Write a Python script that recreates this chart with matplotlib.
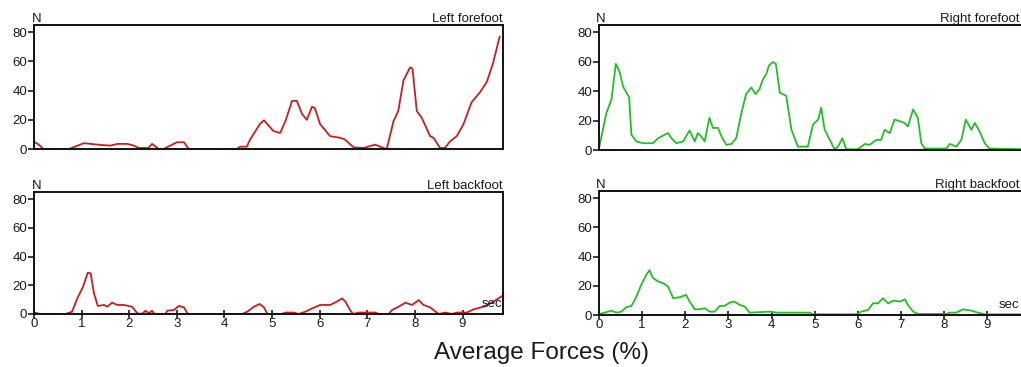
import matplotlib
matplotlib.use("Agg")
import matplotlib.pyplot as plt
import numpy as np

plt.rcParams["font.family"] = ["Liberation Sans", "DejaVu Sans"]

# time (sec) and force (N)
lf_t = [0, 0.1, 0.2, 0.73, 1.05, 1.33, 1.6, 1.75, 1.96, 2.1, 2.2, 2.4, 2.48, 2.62, 2.72,
        3.0, 3.15, 3.25, 4.26, 4.33, 4.47, 4.54, 4.75, 4.83, 5.03, 5.17, 5.28, 5.42,
        5.52, 5.63, 5.73, 5.84, 5.9, 6.01, 6.22, 6.43, 6.53, 6.71, 6.92, 7.16, 7.3,
        7.41, 7.55, 7.65, 7.76, 7.9, 7.95, 8.04, 8.14, 8.32, 8.39, 8.53, 8.63, 8.74,
        8.88, 9.02, 9.19, 9.37, 9.51, 9.64, 9.78]
lf_n = [5, 3, 0, 0, 4, 3, 2.3, 3.5, 3.5, 2.3, 0.7, 0.7, 3.5, 0, 0,
        4.6, 4.6, 0, 0, 1.6, 1.6, 6.5, 17.4, 19.7, 12.3, 11, 19, 33,
        33, 24, 20, 29, 28, 17, 8.8, 7.7, 6.5, 1.2, 0.7, 3, 1.2,
        0, 19, 26, 47, 56, 55, 26, 21.6, 8.8, 7.7, 0.7, 0.7, 5.3,
        8.8, 17, 32, 39, 46, 58.7, 77]

rf_t = [0, 0.17, 0.29, 0.39, 0.48, 0.56, 0.62, 0.7, 0.75, 0.87, 1.02, 1.25, 1.37, 1.52,
        1.6, 1.68, 1.79, 1.95, 2.1, 2.22, 2.29, 2.37, 2.45, 2.56, 2.64, 2.76, 2.84,
        2.95, 3.07, 3.18, 3.3, 3.41, 3.53, 3.63, 3.72, 3.8, 3.88, 3.94, 4.03, 4.1,
        4.19, 4.34, 4.46, 4.61, 4.84, 4.96, 5.08, 5.15, 5.23, 5.31, 5.46, 5.54, 5.64,
        5.73, 6.0, 6.16, 6.27, 6.43, 6.54, 6.62, 6.74, 6.85, 6.97, 7.08, 7.16, 7.28,
        7.39, 7.47, 7.55, 8.05, 8.13, 8.28, 8.4, 8.5, 8.63, 8.71, 8.82, 8.94, 9.05, 9.85]
rf_n = [1, 25, 34.5, 58.6, 53, 43, 40, 35.6, 10.4, 5.8, 4.6, 4.6, 8, 10.4,
        11.5, 8, 4.6, 5.8, 13.3, 5.8, 11.5, 9.2, 5.8, 21.9, 15, 15, 9.2,
        3.5, 4.1, 8, 25, 38, 42.5, 38, 41.4, 48, 51.8, 57.5, 59.8, 58.6,
        39, 36.8, 13.8, 2.3, 2.3, 17.3, 20.7, 28.8, 13.8, 9.2, 0.5, 2.3, 8,
        0.5, 0.5, 4.1, 3.5, 6.9, 6.9, 13.8, 11.5, 20.7, 19.6, 18.4, 16, 27.6,
        21.9, 4.6, 1, 1, 4.1, 2.3, 6.9, 20.7, 13.8, 18.4, 12.7, 4.6, 1, 0.5]

lb_t = [0, 0.14, 0.66, 0.8, 0.91, 1.03, 1.13, 1.19, 1.26, 1.34, 1.47, 1.54, 1.64, 1.75,
        1.89, 2.06, 2.17, 2.27, 2.34, 2.41, 2.48, 2.53, 2.76, 2.8, 2.94, 3.04, 3.15,
        3.23, 4.37, 4.48, 4.62, 4.74, 4.83, 4.9, 5.2, 5.28, 5.45, 5.56, 5.7, 5.84,
        6.01, 6.22, 6.36, 6.47, 6.54, 6.64, 6.7, 6.82, 7.17, 7.24, 7.45, 7.52, 7.66,
        7.8, 7.94, 8.08, 8.18, 8.32, 8.46, 8.5, 8.64, 8.78, 8.88, 9.09, 9.23, 9.44,
        9.65, 9.83]
lb_n = [1, 0, 0, 1.6, 10.9, 19, 28.8, 28.3, 14.4, 5.6, 6.3, 5.1, 7.9, 6.3,
        6.3, 5.1, 0.5, 0, 2.3, 0.5, 2.3, 0, 0, 2.3, 2.8, 5.6, 4.6,
        0, 0, 1.6, 5.1, 7, 4.6, 0, 0, 1, 1, 0, 1.6, 3.9,
        6.3, 6.3, 8.6, 10.9, 8.6, 2.8, 0, 1, 1, 0, 0, 2.8, 5.1,
        7.9, 6.3, 9.7, 6.3, 4.6, 1, 0, 1, 0, 1, 1, 3.2, 5.1,
        8.6, 12.5]

rb_t = [0, 0.13, 0.29, 0.4, 0.52, 0.63, 0.75, 0.85, 0.98, 1.1, 1.17, 1.25, 1.37, 1.48,
        1.6, 1.72, 1.87, 2.02, 2.1, 2.22, 2.33, 2.45, 2.57, 2.68, 2.8, 2.91, 3.03,
        3.14, 3.26, 3.38, 3.49, 3.96, 4.12, 4.88, 4.96, 5.97, 6.08, 6.24, 6.35, 6.47,
        6.58, 6.7, 6.82, 6.97, 7.09, 7.16, 7.28, 7.4, 8.05, 8.13, 8.28, 8.44, 8.63,
        8.78, 8.94, 9.85]
rb_n = [0.7, 1.6, 3, 1.6, 2.3, 5.3, 6.2, 11.5, 20.7, 27.7, 30.7, 25.4, 23, 21.9,
        19.6, 11.5, 12.2, 13.8, 9.2, 3.9, 3.9, 4.6, 2.3, 2.3, 6.2, 6.2, 8.5,
        9.2, 6.9, 5.8, 1.6, 2.3, 1.6, 1.6, 0.5, 0.5, 2.3, 3.5, 8, 8,
        11.5, 8, 9.9, 9.2, 10.8, 6.9, 2.3, 0.7, 0.7, 1.6, 1.6, 3.9, 3,
        1.6, 0.5, 0.5]

panels = [
    # (t, n, colour, title, axes rect in pixels: left, top, width, height, bottom row)
    (lf_t, lf_n, "#c81e1e", "Left forefoot", (34, 25, 469, 124), False),
    (rf_t, rf_n, "#22bf22", "Right forefoot", (599, 25, 425, 125), False),
    (lb_t, lb_n, "#c81e1e", "Left backfoot", (34, 192, 469, 122), True),
    (rb_t, rb_n, "#22bf22", "Right backfoot", (599, 191, 425, 124), True),
]

W, H = 1021, 367
fig = plt.figure(figsize=(W / 100, H / 100), dpi=100)
fs = 9.5

for t, n, col, title, (l, top, w, h), bottom in panels:
    ax = fig.add_axes([l / W, 1 - (top + h) / H, w / W, h / H])
    ax.plot(t, n, color=col, linewidth=1.3)
    ax.set_xlim(0, 9.85)
    ax.set_ylim(0, 85)
    ax.set_yticks([0, 20, 40, 60, 80])
    for s in ax.spines.values():
        s.set_linewidth(1.4)
        s.set_color("#111")
    ax.tick_params(axis="y", direction="out", length=4, width=1.2,
                   labelsize=fs, pad=1, colors="#1a1a1a")
    # right-hand panels run past the figure edge; keep their texts inside it
    right_end = 1.0 if l < 500 else (W - 2 - l) / w
    if bottom:
        ax.set_xticks(range(10))
        ax.tick_params(axis="x", direction="inout", length=6, width=1.2,
                       labelsize=fs, pad=0, colors="#1a1a1a")
        ax.text(min(right_end, 0.998), 0.03, "sec", transform=ax.transAxes,
                ha="right", va="bottom", fontsize=fs, color="#1a1a1a")
    else:
        ax.set_xticks([])
    ax.text(0.005, 1.0, "N", transform=ax.transAxes, ha="center", va="bottom",
            fontsize=fs, color="#1a1a1a")
    ax.text(right_end, 1.0, title, transform=ax.transAxes,
            ha="right", va="bottom", fontsize=fs, color="#1a1a1a")

fig.text(541 / W, 1 - 353 / H, "Average Forces (%)", ha="center", va="center",
         fontsize=17.5, color="#1a1a1a")

fig.savefig("out.png", dpi=100)
